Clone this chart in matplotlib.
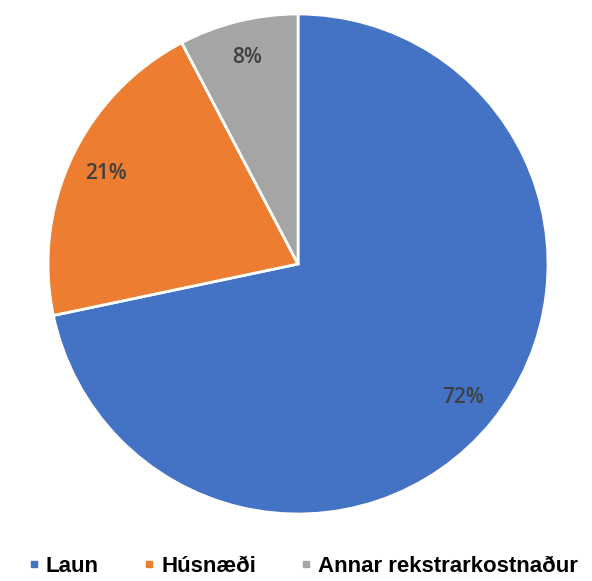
import matplotlib.pyplot as plt
from matplotlib.lines import Line2D

labels = ['Laun', 'Húsnæði', 'Annar rekstrarkostnaður']
values = [71.7, 20.6, 7.7]
colors = ['#4472C4', '#ED7D31', '#A5A5A5']

fig = plt.figure(figsize=(5.92, 5.81), dpi=100)
ax = fig.add_axes([0.0811, 0.1153, 0.8446, 0.8606])

wedges, texts, autotexts = ax.pie(
    values, colors=colors, startangle=90, counterclock=False,
    autopct='%.0f%%', pctdistance=0.85,
    wedgeprops=dict(edgecolor='white', linewidth=2),
    textprops=dict(color='#404040', fontsize=15, family='Open Sans',
                   weight='semibold'))
ax.set_xlim(-1, 1)
ax.set_ylim(-1, 1)
ax.set_aspect('equal')
ax.axis('off')

handles = [Line2D([], [], marker='s', linestyle='', markersize=5,
                  markerfacecolor=c, markeredgecolor=c) for c in colors]
fig.legend(handles, labels, loc='center', bbox_to_anchor=(0.512, 0.025),
           ncol=3, frameon=False, handlelength=0.5, handletextpad=0.3,
           columnspacing=2.0,
           prop=dict(family='Liberation Sans', weight='bold', size=16))

plt.savefig('out.png', dpi=100)
